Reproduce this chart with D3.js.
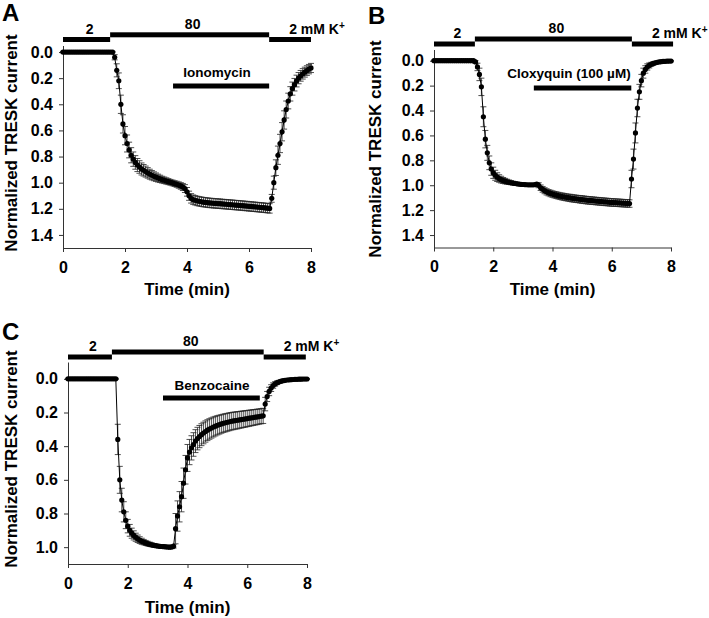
<!DOCTYPE html>
<html><head><meta charset="utf-8">
<script src="https://cdn.jsdelivr.net/npm/d3@7"></script>
<style>
body{margin:0;background:#fff}
svg{display:block}
text{font-family:"Liberation Sans",Arial,sans-serif;font-weight:bold;fill:#000}
</style>
</head><body>
<svg id="chart" width="709" height="618"></svg>
<script>
// ---------- data ----------
const sampleIntervalMin = 4 / 60;   // one sample every 4 s
const xTicks = [0, 2, 4, 6, 8];
const yTicksAB = [0, 0.2, 0.4, 0.6, 0.8, 1.0, 1.2, 1.4];
const yTicksC = [0, 0.2, 0.4, 0.6, 0.8, 1.0];
const solutionLabels = ["2", "80", "2 mM K"];

// Panel A : Ionomycin
const ionomycinMean = [
 0,0,0,0,0,0,0,0,0,0, 0,0,0,0,0,0,0,0,0,0, 0,0,0,0,0,
 0.04,0.14,0.22,0.40,0.55,0.64,0.70,0.75,0.79,0.82,
 0.845,0.865,0.88,0.895,0.905,0.915,0.925,0.935,0.943,0.951,
 0.958,0.965,0.971,0.977,0.982,0.987,0.992,0.997,1.002,1.007,
 1.012,1.018,1.025,1.033,1.045,1.07,1.10,1.12,1.13,1.135,
 1.14,1.143,1.146,1.149,1.151,1.153,1.155,1.156,1.158,1.159,
 1.160,1.161,1.163,1.164,1.165,1.167,1.168,1.169,1.171,1.172,
 1.173,1.175,1.176,1.178,1.179,1.181,1.182,1.184,1.185,1.187,
 1.188,1.190,1.191,1.193,1.195,1.197,
 1.12,1.00,0.885,0.79,0.70,0.61,0.52,0.44,0.375,0.32,
 0.28,0.25,0.222,0.20,0.182,0.167,0.154,0.142,0.131,0.122
];
const ionomycinSem = [
 0.005,0.005,0.005,0.005,0.005,0.005,0.005,0.005,0.005,0.005,
 0.005,0.005,0.005,0.005,0.005,0.005,0.005,0.005,0.005,0.005,
 0.005,0.005,0.005,0.005,0.005,
 0.02,0.05,0.06,0.07,0.07,0.07,0.065,0.06,0.058,0.055,
 0.052,0.05,0.048,0.046,0.044,0.042,0.04,0.038,0.036,0.034,
 0.032,0.03,0.028,0.026,0.025,0.024,0.023,0.022,0.022,0.022,
 0.023,0.024,0.025,0.027,0.03,0.033,0.035,0.036,0.036,0.036,
 0.036,0.036,0.036,0.036,0.036,0.036,0.036,0.036,0.036,0.036,
 0.036,0.036,0.036,0.036,0.036,0.036,0.036,0.036,0.036,0.036,
 0.036,0.036,0.036,0.036,0.036,0.036,0.036,0.036,0.036,0.036,
 0.036,0.036,0.036,0.036,0.036,0.036,
 0.03,0.05,0.06,0.07,0.07,0.07,0.07,0.065,0.06,0.055,
 0.05,0.048,0.045,0.043,0.041,0.04,0.038,0.037,0.036,0.035
];

// Panel B : Cloxyquin
const cloxyquinMean = [
 0,0,0,0,0,0,0,0,0,0, 0,0,0,0,0,0,0,0,0,0, 0,
 0.01,0.05,0.11,0.21,0.45,0.63,0.74,0.82,0.87,0.90,
 0.92,0.935,0.946,0.955,0.962,0.967,0.972,0.976,0.98,0.983,
 0.986,0.989,0.991,0.993,0.994,0.995,0.996,0.997,0.997,0.997,
 0.996,0.99,1.0,1.02,1.033,1.044,1.053,1.06,1.066,1.071,
 1.076,1.08,1.084,1.088,1.091,1.094,1.097,1.10,1.102,1.105,
 1.107,1.109,1.111,1.113,1.115,1.117,1.119,1.121,1.122,1.124,
 1.125,1.127,1.128,1.13,1.131,1.133,1.134,1.135,1.137,1.138,
 1.139,1.14,1.141,1.142,1.143,1.144,1.145,1.146,1.147,
 0.95,0.79,0.58,0.38,0.25,0.16,0.10,0.07,0.05,0.038,
 0.029,0.022,0.017,0.013,0.010,0.008,0.006,0.005,0.004,0.003,0.003
];
const cloxyquinSem = [
 0.004,0.004,0.004,0.004,0.004,0.004,0.004,0.004,0.004,0.004,
 0.004,0.004,0.004,0.004,0.004,0.004,0.004,0.004,0.004,0.004,0.004,
 0.01,0.03,0.05,0.07,0.08,0.07,0.06,0.055,0.05,0.045,
 0.04,0.035,0.03,0.027,0.024,0.022,0.02,0.018,0.016,0.015,
 0.014,0.013,0.012,0.012,0.011,0.011,0.01,0.01,0.01,0.01,
 0.01,0.012,0.02,0.022,0.023,0.024,0.025,0.025,0.026,0.026,
 0.026,0.027,0.027,0.027,0.028,0.028,0.028,0.028,0.029,0.029,
 0.029,0.029,0.029,0.03,0.03,0.03,0.03,0.03,0.03,0.03,
 0.03,0.03,0.03,0.03,0.03,0.03,0.03,0.03,0.03,0.03,
 0.03,0.03,0.03,0.03,0.03,0.03,0.03,0.03,0.03,
 0.07,0.08,0.08,0.07,0.06,0.05,0.04,0.03,0.025,0.02,
 0.016,0.013,0.011,0.01,0.009,0.008,0.007,0.006,0.006,0.005,0.005
];

// Panel C : Benzocaine
const benzocaineMean = [
 0,0,0,0,0,0,0,0,0,0, 0,0,0,0,0,0,0,0,0,0, 0,0,0,0,0,
 0.36,0.60,0.72,0.79,0.84,0.875,0.90,0.917,0.93,0.941,
 0.95,0.958,0.965,0.97,0.975,0.979,0.983,0.986,0.989,0.991,
 0.993,0.995,0.996,0.997,0.998,0.999,1.0,0.999,0.995,
 0.89,0.815,0.76,0.70,0.62,0.54,0.47,0.435,0.41,0.39,
 0.37,0.355,0.343,0.332,0.322,0.313,0.305,0.298,0.292,0.286,
 0.281,0.276,0.272,0.268,0.264,0.261,0.258,0.255,0.252,0.25,
 0.248,0.246,0.244,0.242,0.24,0.238,0.236,0.234,0.232,0.23,
 0.228,0.226,0.224,0.222,0.22,
 0.15,0.105,0.075,0.055,0.04,0.03,0.023,0.018,0.014,0.011,
 0.009,0.007,0.006,0.005,0.004,0.003,0.003,0.002,0.002,0.001,0.001,0.001
];
const benzocaineSem = [
 0.003,0.003,0.003,0.003,0.003,0.003,0.003,0.003,0.003,0.003,
 0.003,0.003,0.003,0.003,0.003,0.003,0.003,0.003,0.003,0.003,
 0.003,0.003,0.003,0.003,0.003,
 0.09,0.08,0.07,0.06,0.05,0.04,0.035,0.03,0.027,0.024,
 0.022,0.02,0.018,0.016,0.015,0.014,0.013,0.012,0.011,0.01,
 0.01,0.01,0.01,0.01,0.01,0.01,0.01,0.01,0.01,
 0.09,0.09,0.09,0.09,0.09,0.085,0.08,0.075,0.072,0.07,
 0.068,0.067,0.066,0.065,0.064,0.063,0.062,0.061,0.06,0.059,
 0.058,0.057,0.056,0.055,0.054,0.054,0.053,0.053,0.052,0.052,
 0.051,0.051,0.05,0.05,0.049,0.049,0.048,0.048,0.047,0.047,
 0.046,0.046,0.045,0.045,0.045,
 0.04,0.03,0.025,0.02,0.016,0.013,0.011,0.009,0.008,0.007,
 0.006,0.005,0.005,0.004,0.004,0.004,0.003,0.003,0.003,0.003,0.003,0.003
];

// solution-change times (min): [end of first 2 mM, end of 80 mM, end of record]
const kSwitchA = [1.52, 6.65, 8.0];
const kSwitchB = [1.38, 6.68, 8.07];
const kSwitchC = [1.47, 6.55, 7.96];
// drug application: [name, start (min), end (min)]
const drugA = ["Ionomycin", 3.55, 6.65];
const drugB = ["Cloxyquin (100 \u00b5M)", 3.37, 6.66];
const drugC = ["Benzocaine", 3.18, 6.42];

// ---------- layout ----------
const panels = [
  {letter:"A", mean:ionomycinMean, sem:ionomycinSem, ks:kSwitchA, drug:drugA, yTicks:yTicksAB,
   yDomain:[-0.05,1.5], xr:[63,311], yr:[45.5,248], letterPos:[2,21],
   lowY:39.5, highY:34.8, drugY:86, drugLabelX:217, drugLabelY:77, yTitleX:17, yTitleY:143, xTitleY:295, xTickY:273},
  {letter:"B", mean:cloxyquinMean, sem:cloxyquinSem, ks:kSwitchB, drug:drugB, yTicks:yTicksAB,
   yDomain:[-0.09,1.5], xr:[434,671], yr:[49.5,247.5], letterPos:[368,24],
   lowY:44, highY:39, drugY:88, drugLabelX:569, drugLabelY:78, yTitleX:381, yTitleY:149, xTitleY:295, xTickY:272},
  {letter:"C", mean:benzocaineMean, sem:benzocaineSem, ks:kSwitchC, drug:drugC, yTicks:yTicksC,
   yDomain:[-0.1,1.1], xr:[68,307], yr:[362,564], letterPos:[2,340],
   lowY:357, highY:352, drugY:398, drugLabelX:212, drugLabelY:390, yTitleX:17, yTitleY:459, xTitleY:613, xTickY:589}
];

const svg = d3.select("#chart");

panels.forEach(p => {
  const g = svg.append("g");
  const x = d3.scaleLinear().domain([0, 8]).range(p.xr);
  const y = d3.scaleLinear().domain(p.yDomain).range(p.yr);
  const pts = p.mean.map((v, i) => ({t: i * sampleIntervalMin, v, e: p.sem[i]}));

  // axes
  const yAxis = d3.axisLeft(y).tickValues(p.yTicks).tickFormat(d3.format(".1f")).tickSizeInner(4).tickSizeOuter(0).tickPadding(6);
  const ya = g.append("g").attr("transform", `translate(${p.xr[0]},0)`).call(yAxis);
  const xAxis = d3.axisBottom(x).tickValues(xTicks).tickFormat(d3.format("d")).tickSizeInner(4).tickSizeOuter(0).tickPadding(8);
  const xa = g.append("g").attr("transform", `translate(0,${p.yr[1]})`).call(xAxis);
  [ya, xa].forEach(a => {
    a.selectAll("path,line").attr("stroke", "#333").attr("stroke-width", 1);
    a.selectAll("text").attr("font-size", 16).attr("font-weight", "bold")
      .attr("font-family", '"Liberation Sans",Arial,sans-serif').attr("fill", "#000");
  });
  xa.selectAll("text").attr("dy", null).attr("y", p.xTickY - p.yr[1]);

  // titles
  g.append("text").attr("x", (p.xr[0] + p.xr[1]) / 2).attr("y", p.xTitleY)
    .attr("text-anchor", "middle").attr("font-size", 17).text("Time (min)");
  g.append("text").attr("transform", `translate(${p.yTitleX},${p.yTitleY}) rotate(-90)`)
    .attr("text-anchor", "middle").attr("font-size", 17).text("Normalized TRESK current");
  g.append("text").attr("x", p.letterPos[0]).attr("y", p.letterPos[1])
    .attr("font-size", 24).text(p.letter);

  // solution bars
  const segs = [
    {a: 0, b: p.ks[0], yy: p.lowY, label: solutionLabels[0]},
    {a: p.ks[0], b: p.ks[1], yy: p.highY, label: solutionLabels[1]},
    {a: p.ks[1], b: p.ks[2], yy: p.lowY, label: solutionLabels[2]}
  ];
  segs.forEach((s, k) => {
    g.append("rect").attr("x", x(s.a)).attr("y", s.yy - 2.5)
      .attr("width", x(s.b) - x(s.a)).attr("height", 5).attr("fill", "#000");
    if (k < 2) {
      g.append("text").attr("x", (x(s.a) + x(s.b)) / 2 + 3).attr("y", s.yy - 6)
        .attr("text-anchor", "middle").attr("font-size", 14).text(s.label);
    } else {
      const t = g.append("text").attr("x", x(s.a) + 20).attr("y", s.yy - 6)
        .attr("font-size", 14).text(s.label);
      t.append("tspan").attr("font-size", 10).attr("dy", -5).text("+");
    }
  });

  // drug bar
  g.append("rect").attr("x", x(p.drug[1])).attr("y", p.drugY - 2.5)
    .attr("width", x(p.drug[2]) - x(p.drug[1])).attr("height", 5).attr("fill", "#000");
  g.append("text").attr("x", p.drugLabelX).attr("y", p.drugLabelY)
    .attr("text-anchor", "middle").attr("font-size", 13.5).text(p.drug[0]);

  // error bars
  const eb = g.append("g").attr("stroke", "#222").attr("stroke-width", 0.8);
  pts.forEach(d => {
    const cx = x(d.t), y1 = y(d.v - d.e), y2 = y(d.v + d.e);
    eb.append("line").attr("x1", cx).attr("x2", cx).attr("y1", y1).attr("y2", y2);
    eb.append("line").attr("x1", cx - 3).attr("x2", cx + 3).attr("y1", y1).attr("y2", y1);
    eb.append("line").attr("x1", cx - 3).attr("x2", cx + 3).attr("y1", y2).attr("y2", y2);
  });

  // line + markers
  g.append("path").datum(pts).attr("fill", "none").attr("stroke", "#000").attr("stroke-width", 1)
    .attr("d", d3.line().x(d => x(d.t)).y(d => y(d.v)));
  g.selectAll("circle.pt").data(pts).enter().append("circle").attr("class", "pt")
    .attr("cx", d => x(d.t)).attr("cy", d => y(d.v)).attr("r", 2.6).attr("fill", "#000");
});
</script>
</body></html>
